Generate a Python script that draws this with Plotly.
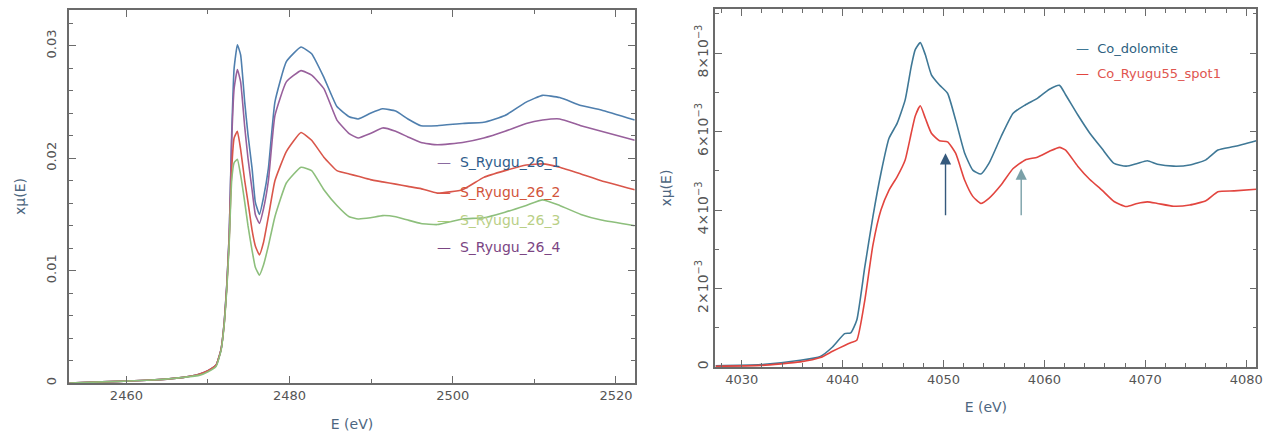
import plotly.graph_objects as go

# ---------------- Left panel: S K-edge ----------------
E_S = [2453, 2457, 2461, 2464, 2467, 2469, 2470, 2471, 2471.6, 2472.0,
       2472.3, 2472.6, 2472.9, 2473.2, 2473.6, 2474.0, 2474.5, 2474.9, 2475.4, 2475.8,
       2476.3, 2476.8, 2477.4, 2478.2, 2479.6, 2481.4,
       2482.7, 2484.2, 2485.8, 2487.3, 2488.4, 2489.9, 2491.4, 2493.0, 2494.5, 2496.1,
       2498.1, 2501.2, 2503.8, 2506.4, 2509.0, 2511.0, 2513.1, 2515.7, 2518.2, 2522.3]

s_ryugu_26_1 = [0.0000, 0.0001, 0.0002, 0.0003, 0.0005, 0.0008, 0.0011, 0.0016, 0.0030, 0.0055,
                0.0087, 0.0132, 0.0221, 0.0280, 0.0301, 0.0292, 0.0250, 0.0221, 0.0191, 0.0161,
                0.0150, 0.0165, 0.0191, 0.0250, 0.0286, 0.0299,
                0.0293, 0.0272, 0.0246, 0.0237, 0.0235, 0.0240, 0.0244, 0.0242, 0.0235, 0.0229,
                0.0229, 0.0231, 0.0232, 0.0238, 0.0250, 0.0256, 0.0254, 0.0247, 0.0243, 0.0234]

s_ryugu_26_2 = [0.0000, 0.0001, 0.0002, 0.0003, 0.0005, 0.0008, 0.0011, 0.0016, 0.0030, 0.0054,
                0.0085, 0.0128, 0.0190, 0.0218, 0.0224, 0.0208, 0.0180, 0.0161, 0.0136, 0.0122,
                0.0114, 0.0125, 0.0148, 0.0180, 0.0206, 0.0223,
                0.0216, 0.0201, 0.0189, 0.0186, 0.0184, 0.0181, 0.0179, 0.0177, 0.0175, 0.0173,
                0.0169, 0.0172, 0.0183, 0.0189, 0.0194, 0.0195, 0.0192, 0.0186, 0.0180, 0.0172]

s_ryugu_26_3 = [0.0000, 0.0001, 0.0002, 0.0003, 0.0005, 0.0007, 0.0010, 0.0015, 0.0029, 0.0053,
                0.0083, 0.0125, 0.0180, 0.0196, 0.0199, 0.0185, 0.0161, 0.0140, 0.0118, 0.0103,
                0.0096, 0.0105, 0.0122, 0.0148, 0.0178, 0.0192,
                0.0189, 0.0172, 0.0158, 0.0148, 0.0146, 0.0147, 0.0149, 0.0148, 0.0145, 0.0142,
                0.0141, 0.0146, 0.0147, 0.0152, 0.0158, 0.0163, 0.0158, 0.0150, 0.0145, 0.0140]

s_ryugu_26_4 = [0.0000, 0.0001, 0.0002, 0.0003, 0.0005, 0.0008, 0.0011, 0.0016, 0.0030, 0.0055,
                0.0087, 0.0132, 0.0215, 0.0262, 0.0279, 0.0268, 0.0228, 0.0200, 0.0172, 0.0150,
                0.0142, 0.0155, 0.0180, 0.0238, 0.0268, 0.0278,
                0.0274, 0.0262, 0.0234, 0.0222, 0.0218, 0.0222, 0.0227, 0.0224, 0.0219, 0.0214,
                0.0212, 0.0214, 0.0218, 0.0224, 0.0231, 0.0234, 0.0235, 0.0229, 0.0224, 0.0216]

left_names = ["S_Ryugu_26_1", "S_Ryugu_26_2", "S_Ryugu_26_3", "S_Ryugu_26_4"]
left_series = [s_ryugu_26_1, s_ryugu_26_2, s_ryugu_26_3, s_ryugu_26_4]
left_colors = ["#4f7fae", "#d9564a", "#8dbf7c", "#98609c"]
left_text_colors = ["#2f5d8c", "#d2553c", "#b9cf86", "#7b4583"]
left_dash_colors = ["#8a6aa0", "#d9564a", "#a8cc7a", "#7b4583"]
left_draw_order = [0, 3, 1, 2]

left_xticks = [2460, 2480, 2500, 2520]
left_yticks = [0, 0.01, 0.02, 0.03]
left_yticktext = ["0", "0.01", "0.02", "0.03"]

# ---------------- Right panel: Co K-edge ----------------
E_Co = [4027.4, 4031.9, 4035.8, 4037.8, 4039.0, 4040.2, 4040.8, 4041.4, 4042.2, 4043.0,
        4043.8, 4044.6, 4045.4, 4046.2, 4046.8, 4047.2, 4047.7, 4048.2, 4048.8, 4049.6,
        4050.4, 4051.2, 4052.1, 4052.9, 4053.7, 4054.5, 4055.7, 4056.9, 4058.1, 4059.3,
        4060.5, 4061.5, 4062.1, 4063.3, 4064.5, 4065.7, 4066.9, 4068.1, 4069.2, 4070.2,
        4071.2, 4072.8, 4074.4, 4076.0, 4077.2, 4078.8, 4081.0]

co_dolomite = [0.00003, 0.00006, 0.00017, 0.00027, 0.00051, 0.00085, 0.00087, 0.00119, 0.00255, 0.00383,
               0.00494, 0.00583, 0.00621, 0.00681, 0.00766, 0.00809, 0.00827, 0.00796, 0.00745, 0.00719,
               0.00698, 0.00630, 0.00545, 0.00502, 0.00492, 0.00519, 0.00587, 0.00647, 0.00668, 0.00685,
               0.00708, 0.00718, 0.00694, 0.00643, 0.00596, 0.00557, 0.00519, 0.00512, 0.00519, 0.00526,
               0.00517, 0.00512, 0.00515, 0.00528, 0.00553, 0.00562, 0.00577]

co_ryugu55_spot1 = [0.00002, 0.00004, 0.00013, 0.00024, 0.00040, 0.00055, 0.00062, 0.00068, 0.00170, 0.00310,
                    0.00400, 0.00451, 0.00485, 0.00528, 0.00596, 0.00640, 0.00666, 0.00634, 0.00596, 0.00577,
                    0.00574, 0.00545, 0.00476, 0.00435, 0.00417, 0.00430, 0.00464, 0.00506, 0.00528, 0.00535,
                    0.00550, 0.00560, 0.00553, 0.00512, 0.00478, 0.00451, 0.00422, 0.00409, 0.00417, 0.00421,
                    0.00417, 0.00410, 0.00413, 0.00424, 0.00447, 0.00449, 0.00453]

right_names = ["Co_dolomite", "Co_Ryugu55_spot1"]
right_series = [co_dolomite, co_ryugu55_spot1]
right_colors = ["#3f7896", "#e2453f"]
right_text_colors = ["#2d5f80", "#e0554f"]

right_xticks = [4030, 4040, 4050, 4060, 4070, 4080]
right_yticks = [0, 0.002, 0.004, 0.006, 0.008]
right_yticktext = ["0", "2×10<sup>−3</sup>", "4×10<sup>−3</sup>", "6×10<sup>−3</sup>", "8×10<sup>−3</sup>"]

# arrows: (energy, tail value, head value, colour)
arrow_E = [4050.2, 4057.7]
arrow_tail = [0.00383, 0.00383]
arrow_head = [0.00545, 0.00506]
arrow_colors = ["#35597c", "#7aa0a8"]

fig = go.Figure()

for i in left_draw_order:
    fig.add_trace(go.Scatter(x=E_S, y=left_series[i], mode="lines", name=left_names[i],
                             line=dict(color=left_colors[i], width=1.6, shape="spline", smoothing=0.4),
                             xaxis="x", yaxis="y", showlegend=False))

for i in range(2):
    fig.add_trace(go.Scatter(x=E_Co, y=right_series[i], mode="lines", name=right_names[i],
                             line=dict(color=right_colors[i], width=1.6, shape="spline", smoothing=0.5),
                             xaxis="x2", yaxis="y2", showlegend=False))

axcol = "#6b6b6b"
tickfont = dict(family="DejaVu Sans", size=13, color="#555555")
titlefont = dict(family="DejaVu Sans", size=14, color="#4d6680")


def ax(domain, rng, tickvals, minor_dtick, ticktext=None, angle=0, anchor=None, title="", standoff=10,
       labelstandoff=0, fontsize=13):
    d = dict(domain=domain, range=rng, tickvals=tickvals, showline=True, linecolor=axcol, linewidth=1.5,
             mirror="allticks", ticks="inside", ticklen=7, tickcolor=axcol, tickwidth=1.2,
             showgrid=False, zeroline=False, tickfont=dict(tickfont, size=fontsize), tickangle=angle,
             anchor=anchor, automargin=False, ticklabelstandoff=labelstandoff,
             title=dict(text=title, font=titlefont, standoff=standoff),
             minor=dict(ticks="inside", ticklen=4, tickcolor=axcol, dtick=minor_dtick, showgrid=False))
    if ticktext is not None:
        d["ticktext"] = ticktext
    return d


fig.update_layout(
    width=1269, height=432,
    margin=dict(l=0, r=0, t=0, b=0),
    paper_bgcolor="white", plot_bgcolor="white",
    xaxis=ax([0.0546, 0.5002], [2453.0, 2522.3], left_xticks, 10, anchor="y", title="E (eV)", standoff=17),
    yaxis=ax([0.1134, 0.977], [0, 0.0332], left_yticks, 0.002, ticktext=left_yticktext, angle=-90,
             anchor="x", title="xμ(E)", standoff=15, labelstandoff=6),
    xaxis2=ax([0.5638, 0.990], [4027.4, 4081.0], right_xticks, 2, anchor="y2", title="E (eV)", standoff=16),
    yaxis2=ax([0.1505, 0.9785], [0, 0.00912], right_yticks, 0.001, ticktext=right_yticktext, angle=-90,
              anchor="x2", title="xμ(E)", standoff=18, fontsize=14),
)

# legend-style labels
left_leg_y = [0.625, 0.556, 0.491, 0.428]
for i in range(4):
    fig.add_annotation(xref="paper", yref="paper", x=0.343, y=left_leg_y[i], xanchor="left", yanchor="middle",
                       showarrow=False,
                       text=f"<span style='color:{left_dash_colors[i]}'>—</span>  {left_names[i]}",
                       font=dict(family="DejaVu Sans", size=14, color=left_text_colors[i]))

right_leg_y = [0.887, 0.829]
for i in range(2):
    fig.add_annotation(xref="paper", yref="paper", x=0.846, y=right_leg_y[i], xanchor="left", yanchor="middle",
                       showarrow=False,
                       text=f"<span style='color:{right_colors[i]}'>—</span>  {right_names[i]}",
                       font=dict(family="DejaVu Sans", size=13, color=right_text_colors[i]))

for i in range(2):
    fig.add_annotation(xref="x2", yref="y2", axref="x2", ayref="y2",
                       x=arrow_E[i], y=arrow_head[i], ax=arrow_E[i], ay=arrow_tail[i],
                       showarrow=True, arrowhead=2, arrowsize=1.6, arrowwidth=1.4,
                       arrowcolor=arrow_colors[i], text="")

fig.write_html("out.html", config={"displayModeBar": False},
               post_script="document.body.style.margin='0';")
